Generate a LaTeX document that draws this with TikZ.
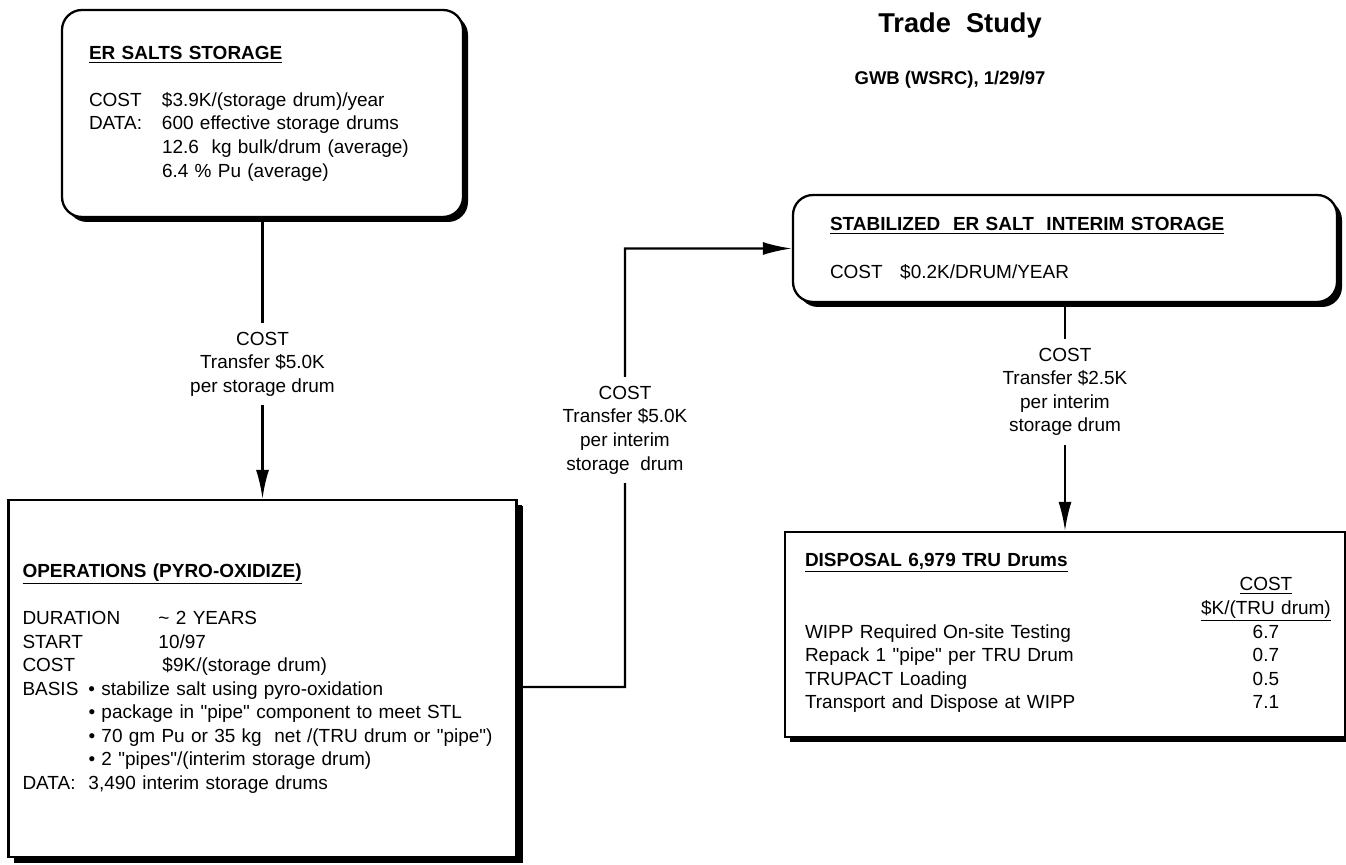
\documentclass[tikz,border=0pt]{standalone}
\usepackage{fontspec}
\setmainfont{Liberation Sans}
\usetikzlibrary{positioning,shadows,arrows.meta}

\begin{document}
\begin{tikzpicture}[-{Latex[length=0.58cm,width=0.26cm]}, node distance=11.3cm and 16cm, on grid,
    line width=1.3pt, font=\fontsize{10.8}{13.4}\selectfont,
    box/.style={draw, fill=white, arrows=-, align=left, inner ysep=0pt,
      drop shadow={shadow xshift=0.1cm, shadow yshift=-0.1cm, fill=black, opacity=1}},
    rbox/.style={box, rounded corners=0.4cm},
    cost/.style={fill=white, align=center, inner xsep=2pt, inner ysep=5pt},
    flow/.style={line cap=butt}]
\useasboundingbox (0,0) rectangle (26.92,-17.3);
\node[font=\fontsize{15.5}{18}\selectfont\bfseries] (title) at (19.2,-0.5) {Trade\ \ Study};
\node[font=\fontsize{10.5}{12}\selectfont\bfseries] (author) at (19.0,-1.6) {GWB (WSRC), 1/29/97};

\node[rbox, minimum height=4.14cm, text width=6.94cm, inner xsep=0.54cm] (er) at (5.25,-2.27) {%
  \underline{\textbf{ER SALTS STORAGE}}\\[13.4pt]
  \makebox[1.46cm][l]{COST}\$3.9K/(storage drum)/year\\
  \makebox[1.46cm][l]{DATA:}600 effective storage drums\\
  \hspace*{1.46cm}12.6\ \ kg bulk/drum (average)\\
  \hspace*{1.46cm}6.4 \% Pu (average)};
\node[box, minimum height=7.14cm, text width=9.6cm, inner xsep=0.28cm,
  drop shadow={shadow xshift=0.12cm, shadow yshift=-0.12cm, fill=black, opacity=1}] (ops) [below=of er] {%
  \underline{\textbf{OPERATIONS (PYRO-OXIDIZE)}}\\[13.4pt]
  \makebox[2.72cm][l]{DURATION}\textasciitilde{} 2 YEARS\\
  \makebox[2.72cm][l]{START}10/97\\
  \makebox[2.8cm][l]{COST}\$9K/(storage drum)\\
  \makebox[1.32cm][l]{BASIS}• stabilize salt using pyro-oxidation\\
  \hspace*{1.32cm}• package in \textquotedbl pipe\textquotedbl{} component to meet STL\\
  \hspace*{1.32cm}• 70 gm Pu or 35 kg\ \ net /(TRU drum or \textquotedbl pipe\textquotedbl)\\
  \hspace*{1.32cm}• 2 \textquotedbl pipes\textquotedbl/(interim storage drum)\\
  \makebox[1.32cm][l]{DATA:}3,490 interim storage drums};
\node[rbox, minimum height=2.14cm, text width=9.4cm, inner xsep=0.74cm] (stab) [below right=2.7cm and 16.05cm of er] {%
  \underline{\textbf{STABILIZED\ \ ER SALT\ \ INTERIM STORAGE}}\\[13.4pt]
  COST\hspace{0.35cm}\$0.2K/DRUM/YEAR};
\node[box, minimum height=4.1cm, text width=10.4cm, inner xsep=0.4cm] (disp) [below=7.72cm of stab] {%
  \underline{\textbf{DISPOSAL 6,979 TRU Drums}}\\
  \begin{tabular}{@{}p{7.5cm}c@{}}
    & \underline{COST}\\
    & \underline{\$K/(TRU drum)}\\
    WIPP Required On-site Testing & 6.7\\
    Repack 1 \textquotedbl pipe\textquotedbl{} per TRU Drum & 0.7\\
    TRUPACT Loading & 0.5\\
    Transport and Dispose at WIPP & 7.1
  \end{tabular}};

\coordinate (bend) at (12.5,-13.74);
\draw[flow] (er) -- node[cost,pos=0.52]{COST\\Transfer \$5.0K\\per storage drum} (ops);
\draw[flow] ([yshift=-0.17cm]ops.east) -- (bend) -- node[cost,pos=0.586]{COST\\Transfer \$5.0K\\per interim\\storage\ \ drum} (bend |- stab.west) -- (stab.west);
\draw[flow] (stab) -- node[cost,pos=0.39]{COST\\Transfer \$2.5K\\per interim\\storage drum} (disp);
\end{tikzpicture}
\end{document}
